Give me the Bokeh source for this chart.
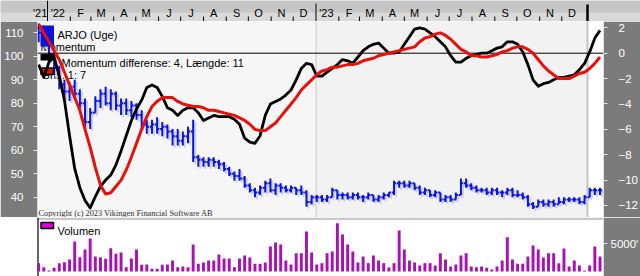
import numpy as np
import pandas as pd
from bokeh.plotting import figure
from bokeh.models import Range1d, LinearAxis, FixedTicker
from bokeh.layouts import column, row
from bokeh.embed import file_html
from bokeh.resources import INLINE
from bokeh.core.properties import value

# ---------------- data ----------------
start_week = "2021-12-20"
n_weeks = 110

price_open = [112,110,106,101,95,88,85,87,84,80,
              72,76,81,84,80,84,79,80,77,79,
              75,71,70,71,69,70,68,66,64,66,
              68,57,56,55,56,55,54,52,50,49,
              48,45,43,42,44,46,43,45,44,43,
              44,43,42,38,40,40,39,40,43,41,
              41,40,41,40,40,41,39,40,41,42,
              46,46,45,46,44,42,43,41,42,39,
              40,39,41,46,45,44,43,43,42,43,
              42,42,43,41,41,40,37,36,38,37,
              38,37,38,39,39,39,38,40,43,43]
price_high = [114,113,108,102,96,90,89,90,86,82,
              78,83,86,87,86,85,82,82,81,80,
              77,73,73,74,72,71,69,69,68,70,
              73,58,57,57,57,56,55,53,51,52,
              49,46,44,45,47,48,46,46,45,45,
              44,45,43,41,41,41,41,44,43,42,
              42,42,42,41,42,41,41,42,42,47,
              47,47,47,46,45,44,43,43,42,41,
              41,42,48,48,46,45,44,44,44,44,
              43,44,44,43,42,41,38,39,39,39,
              39,40,40,40,40,40,41,44,44,44]
price_low = [106,104,98,92,86,82,81,82,78,70,
             69,76,78,79,77,77,75,75,74,73,
             69,67,67,67,66,65,62,62,62,63,
             55,53,53,53,53,52,51,49,47,47,
             44,42,40,41,42,42,41,42,42,42,
             41,41,36,37,38,38,38,40,39,39,
             39,39,39,38,39,38,38,39,40,41,
             44,44,44,43,41,41,40,40,38,38,
             38,39,41,44,43,42,42,41,41,41,
             40,41,40,40,39,36,35,36,36,36,
             36,37,37,38,38,37,37,40,41,41]
price_close = [110,106,101,95,88,85,87,84,80,72,
               76,81,84,80,84,79,80,77,79,75,
               71,70,71,69,70,68,66,64,66,68,
               57,56,55,56,55,54,52,50,49,48,
               45,43,42,44,46,43,45,44,43,44,
               43,42,38,40,40,39,40,43,41,41,
               40,41,40,40,41,39,40,41,42,46,
               46,45,46,44,42,43,41,42,39,40,
               39,41,46,45,44,43,43,42,43,42,
               42,43,41,41,40,37,36,38,37,38,
               37,38,39,39,39,38,40,43,43,43]
momentum = [-0.9,-1.9,-0.7,-0.3,-1.8,-3.7,-6.5,-9.1,-10.6,-11.6,
            -12.2,-11.3,-10.5,-10.0,-9.6,-8.8,-7.7,-6.5,-5.3,-4.4,
            -3.7,-2.7,-2.5,-2.7,-3.4,-4.3,-4.5,-4.9,-4.5,-4.3,
            -4.3,-4.7,-5.3,-5.1,-4.9,-5.0,-5.0,-5.0,-5.2,-5.6,
            -6.7,-7.0,-7.1,-6.5,-4.9,-4.0,-3.8,-3.6,-3.3,-2.9,
            -2.1,-1.2,-0.8,-0.9,-1.8,-1.8,-1.5,-1.2,-0.9,-0.5,
            -0.6,-0.8,-0.3,0.2,0.5,0.7,0.8,0.4,0.0,0.0,
            0.1,0.7,1.3,1.9,2.0,1.9,1.6,1.3,0.9,0.5,
            -0.2,-0.7,-0.7,-0.4,-0.2,-0.1,0.0,0.0,0.2,0.4,
            0.5,0.9,0.9,0.7,0.1,-0.9,-2.1,-2.6,-2.4,-2.3,
            -2.1,-1.9,-1.9,-1.8,-1.7,-1.3,-0.8,0.1,1.2,1.8]
momentum_avg = [2.3,1.6,0.9,0.2,-0.5,-1.5,-2.5,-3.5,-4.5,-6.0,
                -7.4,-9.0,-10.4,-11.1,-11.0,-10.5,-10.0,-9.2,-8.2,-7.1,
                -6.0,-5.0,-4.2,-3.8,-3.5,-3.5,-3.5,-3.8,-4.0,-4.1,
                -4.2,-4.2,-4.3,-4.5,-4.5,-4.6,-4.7,-4.8,-4.9,-5.1,
                -5.3,-5.6,-6.0,-6.1,-6.1,-5.8,-5.5,-5.0,-4.5,-4.0,
                -3.5,-2.9,-2.5,-2.1,-1.7,-1.4,-1.3,-1.1,-1.1,-1.0,
                -0.9,-0.9,-0.8,-0.6,-0.5,-0.4,-0.2,-0.1,0.0,0.1,
                0.2,0.3,0.4,0.5,0.9,1.2,1.3,1.5,1.6,1.4,
                1.1,0.7,0.3,0.1,-0.2,-0.2,-0.3,-0.3,-0.2,-0.1,
                0.1,0.2,0.4,0.5,0.5,0.3,0.0,-0.5,-1.0,-1.4,
                -1.7,-2.0,-2.0,-2.0,-1.8,-1.6,-1.5,-1.2,-0.8,-0.3]
volume = [1490,770,180,660,1490,1670,2140,5360,2560,3930,
          5890,2680,2560,2260,4170,3160,3390,770,2320,3930,
          1190,1250,480,480,1190,1250,1960,770,890,770,
          4820,1370,1610,1960,1960,3040,2320,2320,770,2320,
          2860,2500,1370,1370,1610,4470,5180,4820,1960,1250,
          3270,3270,7140,3390,1250,
          1490,3270,3570,8630,6610,4820,3570,1610,2680,1490,
          2860,1960,1490,710,1490,7320,3930,1960,1610,1070,
          1490,1490,1070,3270,2140,890,1250,2860,3270,890,
          770,890,660,360,890,1960,6130,2140,1370,1370,
          2680,4640,3930,2500,3270,3270,1490,4110,890,1960,
          1070,180,1070,4470,2680]

price_ticks = [40, 50, 60, 70, 80, 90, 100, 110]
momentum_ticks = [-12, -10, -8, -6, -4, -2, 0, 2]
volume_ticks = [5000]
volume_tick_labels = {5000: "5000'"}

month_labels = ["'21", "'22", "F", "M", "A", "M", "J", "J", "A", "S", "O", "N", "D",
                "'23", "F", "M", "A", "M", "J", "J", "A", "S", "O", "N", "D"]
month_label_dates = ["2021-12-22"] + [f"2022-{m:02d}-15" for m in range(1, 13)] + \
                    [f"2023-{m:02d}-15" for m in range(1, 13)]
year_starts = ["2022-01-01", "2023-01-01"]
last_marker = "2024-01-05"

legend_texts = ["ARJO (Uge)", "Momentum", "Momentum differense: 4, Længde: 11", "Gns. 1: 7"]
copyright_text = "Copyright (c) 2023 Vikingen Financial Software AB"
volume_legend = "Volumen"

# ---------------- geometry helpers ----------------
ORIGIN = pd.Timestamp("2022-01-01")
PX_PER_DAY = 0.7357
X_2022 = 47.0
FL, FR = 37, 603          # main frame left / right in window pixels


def day_at(px):
    return (px - X_2022) / PX_PER_DAY


def to_day(d):
    return float((pd.Timestamp(d) - ORIGIN).days)


def price_at(py):
    return 110 - (py - 32.3) / 2.349


def mom_at(py):
    return (52.7 - py) / 12.69


def vol_at(py):
    return (271 - py) * 178.6


weeks = pd.date_range(start_week, periods=n_weeks, freq="7D")
xd = np.array([(d - ORIGIN).days for d in weeks], dtype=float)
o = np.array(price_open, float)
h = np.array(price_high, float)
lo = np.array(price_low, float)
c = np.array(price_close, float)

FONT = value("Liberation Sans")
SIDE = "#7b7b7b"


def base_fig(height, left, right, y0, y1, border, bg):
    f = figure(width=640, height=height, frame_width=right - left, frame_height=height,
               x_range=Range1d(day_at(left), day_at(right)), y_range=Range1d(y0, y1),
               x_axis_location=None, y_axis_location=None, toolbar_location=None,
               min_border_left=left, min_border_right=640 - right,
               min_border_top=0, min_border_bottom=0,
               output_backend="svg", outline_line_color=None,
               background_fill_color=bg, border_fill_color=border)
    f.grid.visible = False
    f.extra_x_ranges = {"px": Range1d(left, right)}
    return f


# ---------------- top month strip (full width) ----------------
top = base_fig(21, 0, 640, 21, 0, "#cbcbcb", "#d9d9d9")
top.quad(left=[0], right=[640], top=[0], bottom=[12], fill_color="#c6c6c6",
         line_color=None, x_range_name="px")
mstarts = [to_day(d) for d in pd.date_range("2022-02-01", "2023-12-01", freq="MS")
           if d.month != 1]
top.segment(x0=mstarts, x1=mstarts, y0=[16] * len(mstarts), y1=[21] * len(mstarts),
            line_color="black", line_width=1)
ys = [to_day(d) for d in year_starts]
top.segment(x0=ys, x1=ys, y0=[0, 3], y1=[21, 21], line_color="black", line_width=1)
lm = to_day(last_marker)
top.segment(x0=[lm], x1=[lm], y0=[4], y1=[21], line_color="black", line_width=2.5)
top.text(x=[to_day(d) for d in month_label_dates], y=[12] * len(month_labels),
         text=month_labels, text_align="center", text_baseline="alphabetic",
         text_font=FONT, text_font_size="11px", text_color="black")

# ---------------- main price / momentum pane ----------------
p = base_fig(196, FL, FR, price_at(217), price_at(21), SIDE, "#f6f6f6")
p.extra_y_ranges = {"mom": Range1d(mom_at(217), mom_at(21)), "py": Range1d(217, 21)}
XR = (day_at(FL), day_at(FR))

p.quad(left=[to_day("2023-01-01")], right=[lm], top=[21], bottom=[217],
       fill_color="#f2f2f2", line_color=None, y_range_name="py")
p.quad(left=[lm], right=[XR[1]], top=[21], bottom=[217],
       fill_color="#ffffff", line_color=None, y_range_name="py")
p.segment(x0=[to_day("2023-01-01")], x1=[to_day("2023-01-01")], y0=[21], y1=[217],
          line_color="#cacaca", line_width=1, y_range_name="py")
p.segment(x0=[lm], x1=[lm], y0=[21], y1=[217],
          line_color="#c4c4c4", line_width=2, y_range_name="py")

p.text(x=[57, 40, 61, 41], y=[34.5, 46.7, 62.3, 74.2], text=legend_texts,
       text_font=FONT, text_font_size="11px", text_color="black",
       text_baseline="alphabetic", text_align="left",
       x_range_name="px", y_range_name="py")
p.text(x=[38], y=[213], text=[copyright_text], text_font=value("Liberation Serif"),
       text_font_size="8.3px", text_color="#303030", text_baseline="alphabetic",
       x_range_name="px", y_range_name="py")


def draw_bars(fig, dx, dy, color):
    tick = 3.0
    fig.segment(x0=xd + dx, x1=xd + dx, y0=lo + dy, y1=h + dy, line_color=color, line_width=2)
    fig.segment(x0=xd + dx - tick, x1=xd + dx, y0=o + dy, y1=o + dy, line_color=color, line_width=2)
    fig.segment(x0=xd + dx, x1=xd + dx + tick, y0=c + dy, y1=c + dy, line_color=color, line_width=2)


draw_bars(p, 2.7, -0.85, "#cfcfe4")
draw_bars(p, 0.0, 0.0, "#0a14dc")

# legend swatches
p.quad(left=[40], right=[53.5], top=[25], bottom=[46], fill_color="#0a14dc",
       line_color=None, x_range_name="px", y_range_name="py")
p.quad(left=[40], right=[54], top=[53.5], bottom=[60], fill_color="black",
       line_color=None, x_range_name="px", y_range_name="py")
p.quad(left=[40.5], right=[53], top=[67.5], bottom=[74], fill_color="#e8100c",
       line_color="black", line_width=1.5, x_range_name="px", y_range_name="py")

p.segment(x0=[XR[0]], x1=[XR[1]], y0=[0], y1=[0], line_color="black",
          line_width=1, y_range_name="mom")
p.line(xd, momentum, line_color="black", line_width=2.8, line_join="round", y_range_name="mom")
p.line(xd, momentum_avg, line_color="#e8100c", line_width=3, line_join="round", y_range_name="mom")

la = LinearAxis(ticker=FixedTicker(ticks=price_ticks))
p.add_layout(la, "left")
ra = LinearAxis(y_range_name="mom", ticker=FixedTicker(ticks=momentum_ticks))
p.add_layout(ra, "right")


def style_axis(ax, so):
    ax.axis_line_color = None
    ax.major_tick_line_color = "#e6e6e6"
    ax.major_tick_in = 0
    ax.major_tick_out = 4
    ax.minor_tick_line_color = None
    ax.major_label_text_color = "white"
    ax.major_label_text_font = "Liberation Sans"
    ax.major_label_text_font_size = "11.5px"
    ax.major_label_standoff = so


style_axis(la, 10)
style_axis(ra, 11)

# ---------------- volume pane (frame reaches the left window edge) ----------------
v = base_fig(59, 0, FR, vol_at(276), vol_at(217), SIDE, "white")
v.extra_y_ranges = {"py": Range1d(276, 217)}
v.quad(left=[FL], right=[FR], top=[217], bottom=[219.5], fill_color="#c8c8c8",
       line_color=None, x_range_name="px", y_range_name="py")
v.segment(x0=[FL + 0.5], x1=[FL + 0.5], y0=[217], y1=[276], line_color="black", line_width=1.2,
          x_range_name="px", y_range_name="py")
v.vbar(x=xd, top=volume, bottom=0, width=4.0, fill_color="#a812b4", line_color=None)
v.quad(left=[40.5], right=[53], top=[222], bottom=[228], fill_color="#e000e0",
       line_color="black", line_width=1.5, x_range_name="px", y_range_name="py")
v.text(x=[57], y=[230.5], text=[volume_legend], text_font=FONT, text_font_size="11px",
       text_color="black", text_baseline="alphabetic", x_range_name="px", y_range_name="py")
va = LinearAxis(ticker=FixedTicker(ticks=volume_ticks))
va.major_label_overrides = volume_tick_labels
style_axis(va, 3)
v.add_layout(va, "right")

# each pane in its own row so that their frames are not aligned to each other
layout = column(row(top), row(p), row(v), spacing=0)
open("out.html", "w").write(file_html(layout, INLINE, "ARJO"))
